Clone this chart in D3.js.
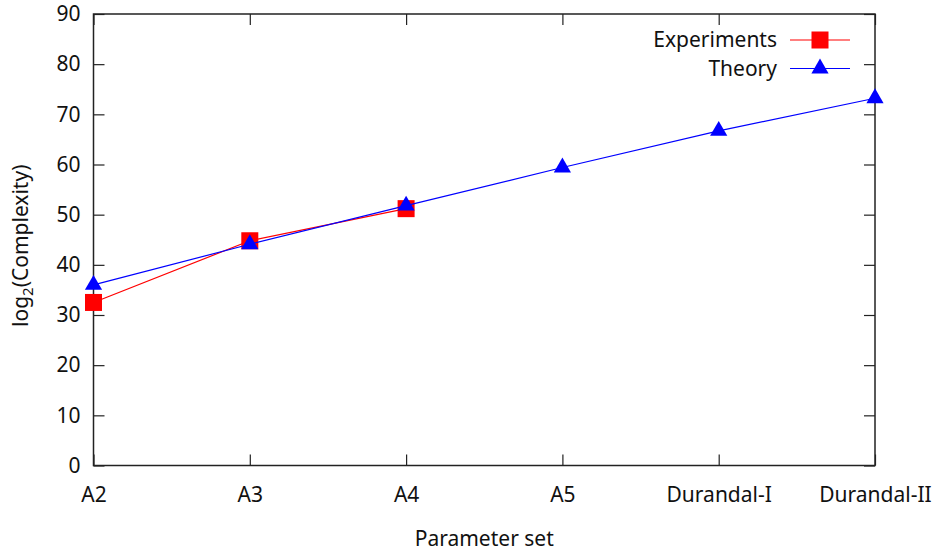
<!DOCTYPE html>
<html>
<head>
<meta charset="utf-8">
<script src="https://cdn.jsdelivr.net/npm/d3@7"></script>
<style>
  html, body { margin: 0; padding: 0; background: #fff; }
  svg { display: block; }
  text { font-family: "Noto Sans", "Open Sans", sans-serif; fill: #111; }
</style>
</head>
<body>
<svg id="chart" width="935" height="554"></svg>
<script>
const categories = ["A2", "A3", "A4", "A5", "Durandal-I", "Durandal-II"];
const experiments = [32.5, 44.8, 51.2];
const theory = [36.0, 44.1, 51.8, 59.4, 66.7, 73.2];
const yTicks = [0, 10, 20, 30, 40, 50, 60, 70, 80, 90];
const seriesNames = ["Experiments", "Theory"];
const seriesColors = ["#ff0000", "#0000ff"];

const W = 935, H = 554;
const plot = { left: 93.5, right: 875, top: 14, bottom: 465.5 };
const FS = 21;

const svg = d3.select("#chart");

const x = d3.scalePoint().domain(categories).range([plot.left, plot.right]);
const y = d3.scaleLinear().domain([0, 90]).range([plot.bottom, plot.top]);

const axisColor = "#222";
const tickLen = 11;

function styleAxis(g) {
  g.selectAll(".domain").remove();
  g.selectAll(".tick line").attr("stroke", axisColor).attr("stroke-width", 1.2);
  g.selectAll(".tick text").attr("fill", "#111").style("font-size", FS + "px")
    .style("font-family", '"Noto Sans", "Open Sans", sans-serif');
}

// bottom axis with labels
svg.append("g")
  .attr("transform", `translate(0,${plot.bottom})`)
  .call(d3.axisBottom(x).tickSizeInner(-tickLen).tickSizeOuter(0).tickPadding(21.5))
  .call(styleAxis);

// top mirror ticks
svg.append("g")
  .attr("transform", `translate(0,${plot.top})`)
  .call(d3.axisTop(x).tickSizeInner(-tickLen).tickSizeOuter(0).tickFormat(""))
  .call(styleAxis);

// left axis with labels
svg.append("g")
  .attr("transform", `translate(${plot.left},0)`)
  .call(d3.axisLeft(y).tickValues(yTicks).tickSizeInner(-tickLen).tickSizeOuter(0).tickPadding(13))
  .call(styleAxis);

// right mirror ticks
svg.append("g")
  .attr("transform", `translate(${plot.right},0)`)
  .call(d3.axisRight(y).tickValues(yTicks).tickSizeInner(-tickLen).tickSizeOuter(0).tickFormat(""))
  .call(styleAxis);

// frame
svg.append("rect")
  .attr("x", plot.left).attr("y", plot.top)
  .attr("width", plot.right - plot.left).attr("height", plot.bottom - plot.top)
  .attr("fill", "none").attr("stroke", axisColor).attr("stroke-width", 1.5);

const line = d3.line().x(d => x(d.c)).y(d => y(d.v));
const expData = experiments.map((v, i) => ({ c: categories[i], v }));
const thData = theory.map((v, i) => ({ c: categories[i], v }));

const SQ = 17;
const triSym = d3.symbol().type(d3.symbolTriangle).size(128);

function square(g, cx, cy, color) {
  g.append("rect").attr("x", cx - SQ / 2).attr("y", cy - SQ / 2)
    .attr("width", SQ).attr("height", SQ).attr("fill", color);
}
function triangle(g, cx, cy, color) {
  g.append("path").attr("d", triSym()).attr("transform", `translate(${cx},${cy})`).attr("fill", color);
}

// experiments
svg.append("path").datum(expData).attr("d", line)
  .attr("fill", "none").attr("stroke", seriesColors[0]).attr("stroke-width", 1.2);
const expG = svg.append("g");
expData.forEach(d => square(expG, x(d.c), y(d.v), seriesColors[0]));

// theory
svg.append("path").datum(thData).attr("d", line)
  .attr("fill", "none").attr("stroke", seriesColors[1]).attr("stroke-width", 1.2);
const thG = svg.append("g");
thData.forEach(d => triangle(thG, x(d.c), y(d.v), seriesColors[1]));

// legend
const legend = svg.append("g");
const legRows = [40, 68.5];
seriesNames.forEach((name, i) => {
  const ly = legRows[i];
  legend.append("text").attr("x", 777).attr("y", ly).attr("dy", "0.35em")
    .attr("text-anchor", "end").style("font-size", FS + "px").text(name);
  legend.append("line").attr("x1", 790).attr("x2", 850).attr("y1", ly).attr("y2", ly)
    .attr("stroke", seriesColors[i]).attr("stroke-width", 1.2);
  if (i === 0) square(legend, 820, ly, seriesColors[i]);
  else triangle(legend, 820, ly, seriesColors[i]);
});

// axis titles
svg.append("text").attr("x", (plot.left + plot.right) / 2).attr("y", 545.5)
  .attr("text-anchor", "middle").style("font-size", FS + "px").text("Parameter set");

const yl = svg.append("text")
  .attr("transform", `translate(28,${(plot.top + plot.bottom) / 2 + 6}) rotate(-90)`)
  .attr("text-anchor", "middle").style("font-size", FS + "px");
yl.append("tspan").text("log");
yl.append("tspan").attr("dy", 5).style("font-size", "15px").text("2");
yl.append("tspan").attr("dy", -5).text("(Complexity)");
</script>
</body>
</html>
